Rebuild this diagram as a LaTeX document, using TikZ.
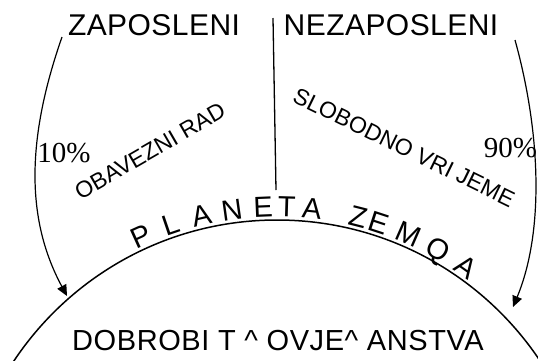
\documentclass[tikz,border=0pt]{standalone}
\usepackage{fontspec}
\usepackage{tikz}
\usetikzlibrary{arrows.meta}
\newfontfamily\headfont[LetterSpace=1.5]{Liberation Sans}
\newfontfamily\bottomfont[LetterSpace=2]{Liberation Sans}
\newfontfamily\plainfont{Liberation Sans}
\newfontfamily\pctfont{Liberation Serif}

\begin{document}
\begin{tikzpicture}[x=1pt,y=-1pt,every node/.style={inner sep=0pt},
  headtxt/.style={font=\headfont\fontsize{30}{30}\selectfont},
  bottomtxt/.style={font=\bottomfont\fontsize{29}{29}\selectfont},
  slanttxt/.style={font=\plainfont\fontsize{23}{23}\selectfont},
  planettxt/.style={font=\plainfont\fontsize{29}{29}\selectfont,anchor=base},
  pcttxt/.style={font=\pctfont\fontsize{29}{29}\selectfont},
  flowarrow/.style={line width=1.2pt,-{Triangle[length=11pt,width=10pt]}}]
\useasboundingbox (0,0) rectangle (538,360);
\begin{scope}
\clip (0,0) rectangle (538,360);
\draw[line width=1.5pt] (277,536) circle[radius=316];
\end{scope}
\foreach \ang/\ch in {114.4/P,108.8/L,103.2/A,97.9/N,92.4/E,88.3/T,83.9/A,75.7/Z,71.9/E,66.4/M,60.6/Q,54.8/A}
  \node[planettxt,rotate=\ang-90] at ({277+319*cos(\ang)},{536-319*sin(\ang)}) {\ch};
\node[headtxt] (zap) at (154,25) {ZAPOSLENI};
\node[headtxt] (nezap) at (391,25) {NEZAPOSLENI};
\node[bottomtxt] (dobrobit) at (278,341) {DOBROBI T \textasciicircum{} OVJE\textasciicircum{} ANSTVA};
\node[slanttxt,rotate=30] (obavezni) at (150,151) {OBAVEZNI RAD};
\node[slanttxt,rotate=-26] (slobodno) at (404,147.5) {SLOBODNO VRI JEME};
\node[pcttxt] (pct10) at (64,153) {10\%};
\node[pcttxt] (pct90) at (510.5,148) {90\%};
\coordinate (divtop) at (273,18);
\coordinate (divbot) at (276,190);
\coordinate (zapfoot) at (62,37);
\coordinate (landL) at (67,296);
\coordinate (nezapfoot) at (515,40);
\coordinate (landR) at (513,307);
\draw[line width=1.3pt] (divtop) -- (divbot);
\draw[flowarrow] (zapfoot) .. controls (26,140) and (26,220) .. (landL);
\draw[flowarrow] (nezapfoot) .. controls (540,130) and (545,230) .. (landR);
\end{tikzpicture}
\end{document}
